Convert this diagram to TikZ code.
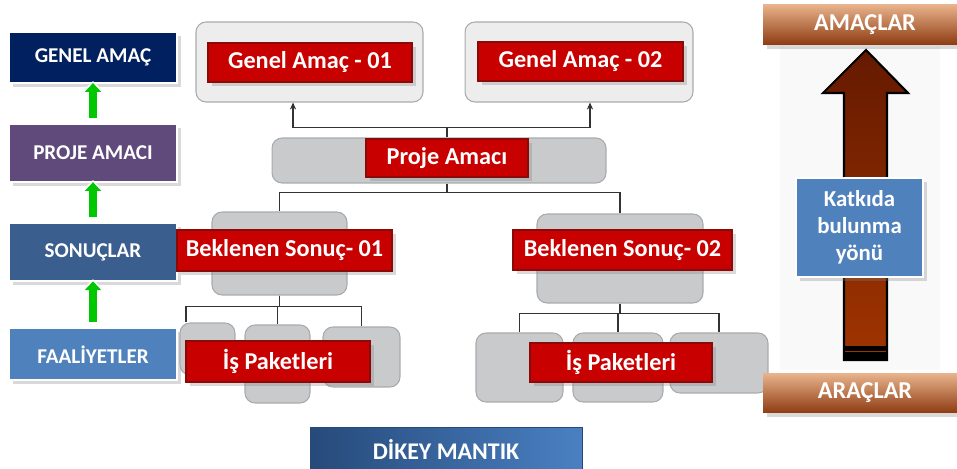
\documentclass[tikz,border=0pt]{standalone}
\usepackage{fontspec}
\setmainfont{Carlito}
\usepackage{xcolor}
\usepackage{tikz}
\usetikzlibrary{positioning,shapes,shadows,arrows,arrows.meta}

\definecolor{genelblue}{HTML}{002060}
\definecolor{projepurple}{HTML}{604A7B}
\definecolor{sonucblue}{HTML}{3A5F8E}
\definecolor{faalblue}{HTML}{4F81BD}
\definecolor{labelred}{HTML}{C80000}
\definecolor{labeledge}{HTML}{8A0A0A}
\definecolor{boxgray}{HTML}{C9CACC}
\definecolor{boxedge}{HTML}{A9AAAD}
\definecolor{topgray}{HTML}{EDEDED}
\definecolor{bartop}{HTML}{E9B48C}
\definecolor{barmid}{HTML}{C4662E}
\definecolor{barbot}{HTML}{8E3B12}
\definecolor{arrowtop}{HTML}{651A00}
\definecolor{arrowbot}{HTML}{A03400}
\definecolor{dikeyleft}{HTML}{264A7A}
\definecolor{dikeyright}{HTML}{4A80C2}
\definecolor{arrowgreen}{HTML}{00C800}

\tikzstyle{logic}=[rectangle, draw=white, line width=1.2pt, drop shadow={opacity=0.3},
        text centered, text=white, font=\bfseries\fontsize{12}{14}\selectfont,
        minimum width=3.36cm, minimum height=1.16cm]
\tikzstyle{redtag}=[rectangle, draw=labeledge, line width=1.3pt, fill=labelred,
        drop shadow={opacity=0.3}, text=white, font=\bfseries\fontsize{13.8}{16}\selectfont]
\tikzstyle{graybox}=[rectangle, rounded corners=0.2cm, draw=boxedge, fill=boxgray, line width=0.6pt]
\tikzstyle{topbox}=[graybox, fill=topgray]
\tikzstyle{bar}=[rectangle, top color=bartop, middle color=barmid, bottom color=barbot,
        drop shadow={opacity=0.3}, text=white, font=\bfseries\fontsize{13.8}{16}\selectfont,
        minimum width=4.08cm, minimum height=0.8cm]
\tikzstyle{infobox}=[rectangle, draw=white, line width=1.2pt, fill=faalblue, drop shadow={opacity=0.3},
        text=white, align=center, font=\bfseries\fontsize{13}{15.5}\selectfont,
        minimum width=2.54cm, minimum height=1.98cm]
\tikzstyle{titlebox}=[rectangle, draw=dikeyleft, left color=dikeyleft, right color=dikeyright,
        text=white, font=\bfseries\fontsize{13.6}{16}\selectfont,
        minimum width=5.44cm, minimum height=0.92cm]
\tikzstyle{link}=[draw=black!80, line width=0.8pt]
\tikzstyle{uplink}=[link, -{Stealth[length=4pt,width=3.5pt]}]
\tikzstyle{upglow}=[white, line width=6.2pt, -{Triangle[length=7pt,width=14pt]}]
\tikzstyle{upgreen}=[arrowgreen, line width=4pt, -{Triangle[length=5pt,width=9pt]}]

\begin{document}
\begin{tikzpicture}[x=0.02cm, y=-0.02cm, node distance=0.78cm]
        \useasboundingbox (0,0) rectangle (957,469);

        % left column
        \node (genel) [logic, fill=genelblue, minimum height=1.02cm] at (93,57.5) {GENEL AMAÇ};
        \node (proje) [logic, fill=projepurple, below=of genel] {PROJE AMACI};
        \node (sonuc) [logic, fill=sonucblue, below=of proje] {SONUÇLAR};
        \node (faal) [logic, fill=faalblue, minimum height=1.04cm, below=0.9cm of sonuc] {FAALİYETLER};
        \foreach \a/\b in {proje/genel, sonuc/proje, faal/sonuc} {
          \draw[upglow] ([yshift=0.08cm]\a.north) -- ([yshift=0.06cm]\b.south);
          \draw[upgreen] ([yshift=0.1cm]\a.north) -- ([yshift=0.02cm]\b.south);
        }

        % goals
        \node (ga1box) [topbox, minimum width=4.54cm, minimum height=1.6cm] at (309.5,62) {};
        \node (ga1) [redtag, minimum width=4.08cm, minimum height=0.78cm] at (310,62.5) {Genel Amaç - 01};
        \node (ga2box) [topbox, minimum width=4.56cm, minimum height=1.6cm] at (579,62) {};
        \node (ga2) [redtag, minimum width=4.1cm, minimum height=0.78cm] at (580.5,61.5) {Genel Amaç - 02};

        % project purpose
        \node (pabox) [graybox, minimum width=6.68cm, minimum height=0.9cm] at (439,160.5) {};
        \node (pa) [redtag, minimum width=3.24cm, minimum height=0.76cm] at (447,158) {Proje Amacı};
        \draw[uplink] (pa.north |- pabox.north) -- ++(0,-10) -| ([xshift=-0.33cm]ga1box.south);
        \draw[uplink] (pa.north |- pabox.north) -- ++(0,-10) -| ([xshift=0.22cm]ga2box.south);

        % results
        \node (bs1box) [graybox, minimum width=2.7cm, minimum height=1.66cm] at (279.5,253.5) {};
        \node (bs1) [redtag, minimum width=4.3cm, minimum height=0.82cm] at (284.5,250.5) {Beklenen Sonuç- 01};
        \node (bs2box) [graybox, minimum width=3.32cm, minimum height=1.78cm] at (620,258.5) {};
        \node (bs2) [redtag, minimum width=4.38cm, minimum height=0.8cm] at (622.5,250) {Beklenen Sonuç- 02};
        \draw[link] (pa.south |- pabox.south) -- ++(0,9) -| (bs1box.north);
        \draw[link] (pa.south |- pabox.south) -- ++(0,9) -| (bs2box.north);

        % work packages
        \node (lb1) [graybox, minimum width=1.1cm, minimum height=1.04cm] at (207.5,349) {};
        \node (lb2) [graybox, minimum width=1.3cm, minimum height=1.56cm] at (277.5,364) {};
        \node (lb3) [graybox, minimum width=1.54cm, minimum height=1.2cm] at (361.5,357) {};
        \draw[link] (bs1box.south) -- ++(0,11) -| ([xshift=-0.43cm]lb1.north);
        \draw[link] (bs1box.south) -- ++(0,11) -| (lb2.north);
        \draw[link] (bs1box.south) -- ++(0,11) -| (lb3.north);
        \node (ip1) [redtag, minimum width=3.68cm, minimum height=0.82cm] at (278,361.5) {İş Paketleri};

        \node (rb1) [graybox, minimum width=1.74cm, minimum height=1.38cm] at (519.5,367.5) {};
        \node (rb2) [graybox, minimum width=1.8cm, minimum height=1.38cm] at (618,367.5) {};
        \node (rb3) [graybox, minimum width=1.96cm, minimum height=1.2cm] at (719,363) {};
        \draw[link] (bs2box.south) -- ++(0,10) -| (rb1.north);
        \draw[link] (bs2box.south) -- ++(0,10) -| (rb2.north);
        \draw[link] (bs2box.south) -- ++(0,10) -| (rb3.north);
        \node (ip2) [redtag, minimum width=3.64cm, minimum height=0.78cm] at (621,362.5) {İş Paketleri};

        % right column
        \fill[gray!5] (780,47) rectangle (940,370);
        \shadedraw[top color=arrowtop, bottom color=arrowbot, draw=black, line width=1.2pt]
          (844,360) -- (844,93) -- (823,93) -- (866,50) -- (908,93) -- (887,93) -- (887,360) -- cycle;
        \fill[black] (843.5,346) rectangle (887.5,360.5);
        \draw[arrowbot, line width=1pt] (845,351.5) -- (886,351.5);
        \node (katki) [infobox] at (859.5,227.5) {Katkıda\\bulunma\\yönü};
        \node (amac) [bar] at (865,24.5) {AMAÇLAR};
        \node (arac) [bar] at (865,393) {ARAÇLAR};

        \node (dikey) [titlebox] at (446,450) {DİKEY MANTIK};
      \end{tikzpicture}
\end{document}
